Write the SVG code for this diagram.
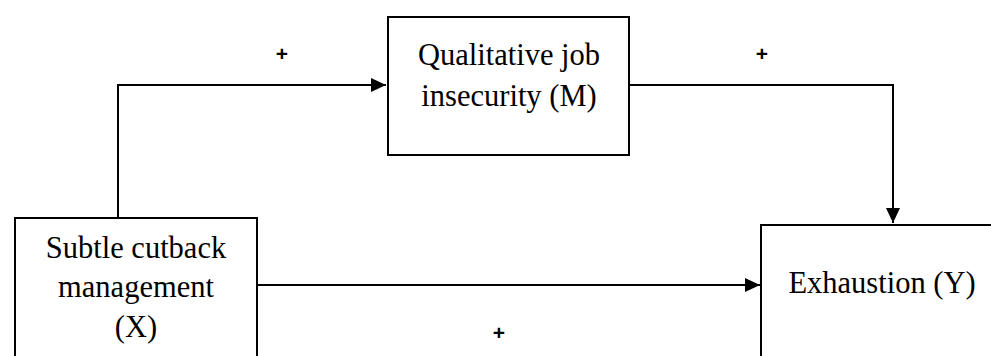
<svg xmlns="http://www.w3.org/2000/svg" width="991" height="356" viewBox="0 0 991 356">
<style>
.box{fill:#fff;stroke:#000;stroke-width:2}
.lbl{font-family:"Liberation Serif","Times New Roman",serif;font-size:30.5px;fill:#000;text-anchor:middle}
.sign{font-family:"Liberation Sans",Arial,sans-serif;font-size:21px;font-weight:bold;fill:#000;text-anchor:middle}
.conn{fill:none;stroke:#000;stroke-width:2}
</style>
<defs>
<marker id="arr" markerUnits="userSpaceOnUse" markerWidth="16" markerHeight="14" refX="15" refY="7" orient="auto">
<path d="M0,0 L15,7 L0,14 Z" fill="#000"/>
</marker>
</defs>
<rect width="991" height="356" fill="#fff"/>
<g id="connectors">
<path class="conn" d="M118,218 V85 H386" marker-end="url(#arr)"/>
<path class="conn" d="M629,85 H893 V223" marker-end="url(#arr)"/>
<path class="conn" d="M257,285 H760" marker-end="url(#arr)"/>
<text class="sign" x="282" y="61">+</text>
<text class="sign" x="762" y="61">+</text>
<text class="sign" x="499" y="340">+</text>
</g>
<g id="nodeX">
<rect class="box" x="15" y="218" width="242" height="150"/>
<text class="lbl" x="136" y="258">Subtle cutback</text>
<text class="lbl" x="136" y="297">management</text>
<text class="lbl" x="136" y="337">(X)</text>
</g>
<g id="nodeM">
<rect class="box" x="388" y="17" width="241" height="138"/>
<text class="lbl" x="509" y="65">Qualitative job</text>
<text class="lbl" x="509" y="106">insecurity (M)</text>
</g>
<g id="nodeY">
<rect class="box" x="761" y="225" width="250" height="150"/>
<text class="lbl" x="882" y="293">Exhaustion (Y)</text>
</g>
</svg>
